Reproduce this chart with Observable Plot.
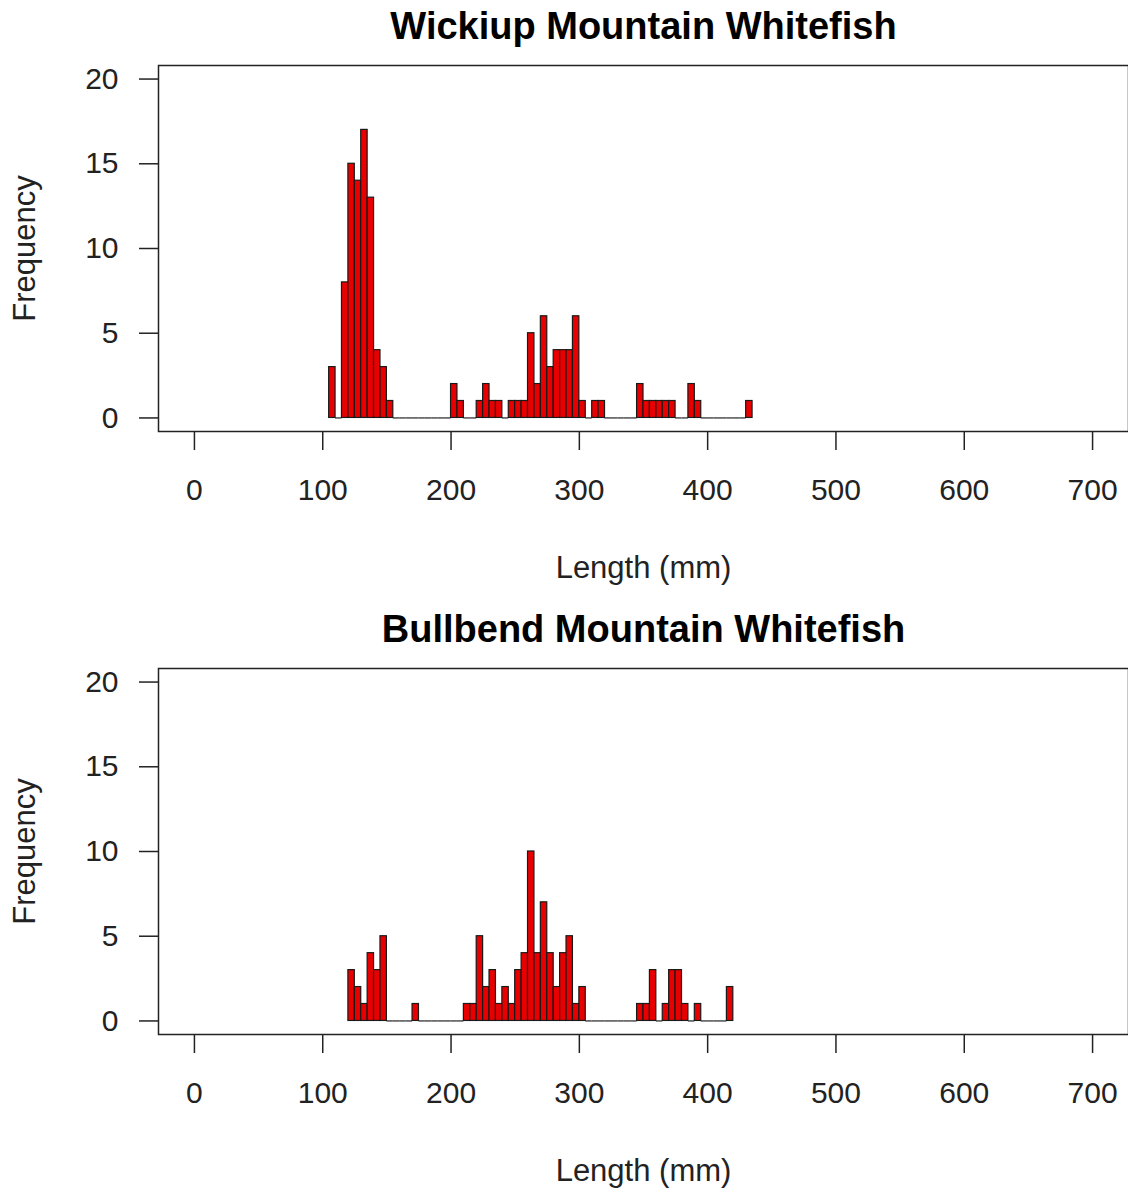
<!DOCTYPE html>
<html><head><meta charset="utf-8">
<script src="https://cdn.jsdelivr.net/npm/d3@7"></script>
<script src="https://cdn.jsdelivr.net/npm/@observablehq/plot@0.6"></script>
<style>
html,body{margin:0;padding:0;background:#fff;}
#chart svg{display:block;}
</style></head><body><div id="chart"></div>
<script>
// bin width (mm) of the histograms
const binWidth = 5;
const wickiupTitle = "Wickiup Mountain Whitefish";
const bullbendTitle = "Bullbend Mountain Whitefish";
const xLabel = "Length (mm)";
const yLabel = "Frequency";
const xTicks = [0, 100, 200, 300, 400, 500, 600, 700];
const yTicks = [0, 5, 10, 15, 20];

// Wickiup: bin starts 105..430 (mm), counts per 5-mm bin
const wickiupBins = d3.range(105, 435, binWidth);
const wickiupCounts = [
  3, 0, 8, 15, 14, 17, 13, 4, 3, 1,        // 105-150
  0, 0, 0, 0, 0, 0, 0, 0, 0,               // 155-195
  2, 1, 0, 0, 1, 2, 1, 1, 0,               // 200-240
  1, 1, 1, 5, 2, 6, 3, 4, 4, 4, 6, 1, 0, 1, 1, // 245-315
  0, 0, 0, 0, 0,                           // 320-340
  2, 1, 1, 1, 1, 1, 0, 0, 2, 1,            // 345-390
  0, 0, 0, 0, 0, 0, 0,                     // 395-425
  1                                        // 430
];

// Bullbend: bin starts 120..415 (mm)
const bullbendBins = d3.range(120, 420, binWidth);
const bullbendCounts = [
  3, 2, 1, 4, 3, 5,                        // 120-145
  0, 0, 0, 0,                              // 150-165
  1,                                       // 170
  0, 0, 0, 0, 0, 0, 0,                     // 175-205
  1, 1, 5, 2, 3, 1, 2, 1, 3, 4, 10, 4, 7, 4, 2, 4, 5, 1, 2, // 210-300
  0, 0, 0, 0, 0, 0, 0, 0,                  // 305-340
  1, 1, 3, 0, 1, 3, 3, 1, 0, 1,            // 345-390
  0, 0, 0, 0,                              // 395-410
  2                                        // 415
];

function panel(title, bins, counts, height, marginBottom) {
  const data = bins.map((b, i) => ({x1: b, x2: b + binWidth, count: counts[i]}));
  const nonzero = data.filter(d => d.count > 0);
  const zero = data.filter(d => d.count === 0);
  return Plot.plot({
    width: 1128, height,
    marginLeft: 158, marginRight: 0, marginTop: 65, marginBottom,
    style: {fontFamily: "'Liberation Sans', Arial, sans-serif", color: "#222", background: "#fff"},
    x: {domain: [-28, 728]},
    y: {domain: [-0.8, 20.8]},
    marks: [
      Plot.ruleY(zero, {x1: "x1", x2: "x2", y: 0, stroke: "#222", strokeWidth: 1.2}),
      Plot.rectY(nonzero, {x1: "x1", x2: "x2", y1: 0, y2: "count", fill: "#e80000", stroke: "#1a1a1a", strokeWidth: 1.2}),
      Plot.frame({stroke: "#222", strokeWidth: 1.5}),
      Plot.axisX({ticks: xTicks, tickSize: 19, tickPadding: 28, fontSize: 30, label: null, strokeWidth: 1.5}),
      Plot.axisY({ticks: yTicks, tickSize: 19, tickPadding: 21, fontSize: 30, label: null, strokeWidth: 1.5}),
      Plot.text([title], {text: d => d, frameAnchor: "top", dy: -27, lineAnchor: "bottom", textAnchor: "middle", fontSize: 38, fontWeight: "bold", fill: "#000"}),
      Plot.text([xLabel], {text: d => d, frameAnchor: "bottom", dy: 146, lineAnchor: "bottom", textAnchor: "middle", fontSize: 31}),
      Plot.text([yLabel], {text: d => d, frameAnchor: "left", dx: -124, rotate: -90, lineAnchor: "bottom", textAnchor: "middle", fontSize: 31})
    ]
  });
}

const root = document.getElementById("chart");
root.appendChild(panel(wickiupTitle, wickiupBins, wickiupCounts, 603, 172));
root.appendChild(panel(bullbendTitle, bullbendBins, bullbendCounts, 587, 156));
</script>
</body></html>
